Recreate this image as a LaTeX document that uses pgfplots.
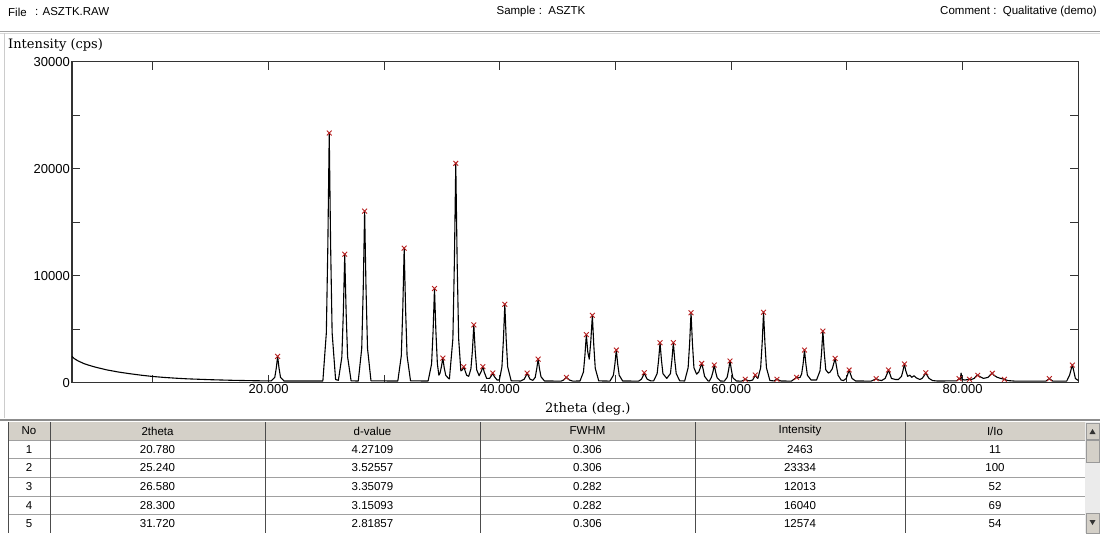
\documentclass[border=0pt]{standalone}
\usepackage{fontspec}
\setmainfont{Liberation Sans}
\newfontfamily\serfont{DejaVu Serif}
\usepackage{graphicx}
\usepackage{pgfplots}
\pgfplotsset{compat=1.18}

\definecolor{winGray}{HTML}{D4D0C8}
\definecolor{gridGray}{HTML}{A0A0A0}
\definecolor{peakRed}{HTML}{B82020}

\newcommand\tf{\fontsize{11.5}{13}\selectfont}

\begin{document}
\begin{tikzpicture}
\useasboundingbox (0pt,0pt) rectangle (1100pt,-533pt);
\fill[white] (0pt,0pt) rectangle (1100pt,-533pt);

\begin{scope}[x=1pt,y=-1pt]
% header line
\node[anchor=west,inner sep=0] at (8,12) {\tf File};
\node[anchor=west,inner sep=0] at (35,12) {\tf : ASZTK.RAW};
\node[inner sep=0] at (541,12) {\tf Sample :\ \ ASZTK};
\node[anchor=east,inner sep=0] at (1097,12) {\tf Comment :\ \ Qualitative (demo)};
% panel borders
\draw[gridGray,line width=1pt] (0,31) -- (1100,31);
\draw[black!15,line width=1pt] (0,33) -- (1100,33);
\draw[black!20,line width=1pt] (4,33) -- (4,418);
% axis titles
\node[anchor=west,inner sep=0] at (8,45) {\serfont\fontsize{13}{15}\selectfont Intensity (cps)};
\node[anchor=west,inner sep=0] at (545,409) {\serfont\fontsize{13}{15}\selectfont 2theta (deg.)};
\end{scope}

\begin{axis}[
    at={(72pt,-382.7pt)}, anchor=south west,
    scale only axis, width=1006.3pt, height=321pt,
    xmin=3, xmax=90, ymin=0, ymax=30000,
    axis line style={line width=1.3pt, black!80},
    tick style={line width=1pt, black!80},
    major tick length=8pt, tick align=inside,
    xtick={10,20,...,90},
    xticklabels={,20.000,,40.000,,60.000,,80.000,},
    ytick={0,5000,...,30000},
    yticklabels={0,,10000,,20000,,30000},
    scaled y ticks=false,
    /pgf/number format/assume math mode=true,
    ticklabel style={font=\fontsize{13}{15}\selectfont, inner sep=1pt},
    yticklabel style={xshift=-1pt},
    xticklabel style={yshift=-1pt},
    clip=false,
]
\addplot[black, line width=1.1pt, line join=round] coordinates {
(3.0,2450) (3.2,2250) (3.5,2050) (4.0,1800) (4.5,1620) (5.0,1460) (5.5,1330)
(6.0,1200) (7.0,1000) (8.0,840) (9.0,700) (10.0,580) (11.0,490) (12.0,420)
(13.0,360) (14.0,320) (15.0,280) (16.0,250) (17.0,220) (18.0,200) (19.0,180)
(20.23,170) (20.53,490) (20.66,1350) (20.78,2463) (20.90,1350) (21.03,490) (21.33,160)
(24.69,160) (24.99,4670) (25.12,12830) (25.24,23334) (25.36,12830) (25.49,4670) (25.79,300)
(26.03,220) (26.33,2400) (26.46,6610) (26.58,12013) (26.70,6610) (26.83,2400) (27.13,170)
(27.75,160) (28.05,3210) (28.18,8820) (28.30,16040) (28.42,8820) (28.55,3210) (28.85,170)
(31.17,160) (31.47,2510) (31.60,6920) (31.72,12574) (31.84,6920) (31.97,2510) (32.27,170)
(33.79,160) (34.09,1760) (34.22,4840) (34.34,8800) (34.46,4840) (34.59,1760) (34.72,700)
(34.82,900) (34.94,1500) (35.06,2300) (35.18,1400) (35.31,700) (35.55,400)
(35.63,350) (35.93,4100) (36.06,11280) (36.18,20500) (36.30,11280) (36.43,4100) (36.62,1100)
(36.75,1200) (36.87,1500) (36.99,1100) (37.12,700) (37.30,600)
(37.49,1300) (37.62,3000) (37.74,5400) (37.86,3000) (37.99,1200) (38.20,650)
(38.40,1100) (38.52,1500) (38.64,1000) (38.85,400) (39.10,400)
(39.26,650) (39.38,900) (39.50,600) (39.75,250) (39.95,250)
(40.17,1470) (40.30,4030) (40.42,7330) (40.54,4030) (40.67,1470) (40.97,180)
(41.80,160) (42.10,330) (42.23,600) (42.35,900) (42.47,600) (42.60,330) (42.85,220)
(43.05,500) (43.18,1300) (43.30,2200) (43.42,1300) (43.55,550) (43.85,160)
(45.30,150) (45.50,250) (45.63,380) (45.75,500) (45.87,380) (46.00,250) (46.30,150)
(46.92,160) (47.22,1000) (47.35,2600) (47.47,4500) (47.59,2900) (47.72,2200)
(47.85,3800) (47.99,6300) (48.11,3550) (48.24,1350) (48.54,170)
(49.51,150) (49.81,700) (49.94,1750) (50.06,3050) (50.18,1750) (50.31,700) (50.61,160)
(52.00,150) (52.23,330) (52.36,600) (52.48,930) (52.60,600) (52.73,330) (53.00,180)
(53.29,170) (53.59,850) (53.72,2150) (53.84,3740) (53.96,2150) (54.09,850) (54.42,400)
(54.74,850) (54.87,2150) (54.99,3740) (55.11,2150) (55.24,850) (55.54,180)
(55.97,160) (56.27,1400) (56.40,3700) (56.52,6540) (56.64,3700) (56.77,1400) (57.00,800)
(57.19,1000) (57.32,1400) (57.44,1800) (57.56,1300) (57.69,600) (57.99,170)
(58.10,150) (58.28,500) (58.41,1000) (58.53,1650) (58.65,1000) (58.78,450) (59.05,160)
(59.40,150) (59.64,500) (59.77,1200) (59.89,2030) (60.01,1200) (60.14,450) (60.45,160)
(60.90,150) (61.10,250) (61.21,320) (61.32,250) (61.55,170) (61.85,250) (62.00,550)
(62.07,720) (62.20,500) (62.30,400)
(62.54,1400) (62.67,3700) (62.79,6580) (62.91,3700) (63.04,1400) (63.34,200)
(63.70,170) (63.85,270) (63.95,320) (64.05,270) (64.30,160)
(65.20,150) (65.50,380) (65.64,500) (65.78,450) (65.95,500) (66.08,800)
(66.21,1750) (66.33,3050) (66.45,1750) (66.58,700) (66.90,250)
(67.37,250) (67.67,1100) (67.80,2700) (67.92,4830) (68.04,2800) (68.17,1200) (68.40,900)
(68.55,1000) (68.73,1300) (68.86,1800) (68.98,2280) (69.10,1500) (69.23,700) (69.50,250)
(69.70,200) (69.94,400) (70.07,800) (70.19,1190) (70.31,800) (70.44,400) (70.75,160)
(72.10,150) (72.30,250) (72.53,380) (72.75,250) (73.00,200)
(73.30,400) (73.46,800) (73.59,1190) (73.72,800) (73.85,400) (74.20,300)
(74.45,300) (74.72,600) (74.85,1150) (74.97,1750) (75.09,1100) (75.25,600)
(75.45,700) (75.60,500) (75.80,650) (76.00,450) (76.30,300)
(76.50,400) (76.70,700) (76.82,930) (76.95,650) (77.10,400) (77.40,200) (77.80,160)
(79.50,170) (79.70,380) (79.80,300) (79.87,900) (79.95,300) (80.20,250)
(80.45,300) (80.59,320) (80.75,300) (81.00,400) (81.20,650) (81.31,690) (81.45,600)
(81.80,400) (82.20,500) (82.45,800) (82.57,880) (82.70,700) (83.00,500) (83.30,400)
(83.61,320) (83.90,200) (84.50,150)
(87.20,150) (87.40,300) (87.50,380) (87.60,300) (87.80,150)
(89.00,150) (89.25,700) (89.37,1200) (89.49,1650) (89.61,1100) (89.75,400) (90.00,200)
};
\addplot[only marks, mark=x, mark size=3.4pt, peakRed, mark options={line width=0.9pt}] coordinates {
(20.78,2463) (25.24,23334) (26.58,12013) (28.30,16040) (31.72,12574)
(34.34,8800) (35.06,2300) (36.18,20500) (36.87,1500) (37.74,5400)
(38.52,1500) (39.38,900) (40.42,7330) (42.35,900) (43.30,2200)
(45.75,500) (47.47,4500) (47.99,6300) (50.06,3050) (52.48,930)
(53.84,3740) (54.99,3740) (56.52,6540) (57.44,1800) (58.53,1650)
(59.89,2030) (61.21,320) (62.07,720) (62.79,6580) (63.95,320)
(65.64,500) (66.33,3050) (67.92,4830) (68.98,2280) (70.19,1190)
(72.53,380) (73.59,1190) (74.97,1750) (76.82,930) (79.70,380)
(80.59,320) (81.31,690) (82.57,880) (83.61,320) (87.50,380)
(89.49,1650)
};
\end{axis}

\begin{scope}[x=1pt,y=-1pt]
% table
\draw[black!45,line width=2pt] (0,420) -- (1100,420);
\fill[winGray] (8,422) rectangle (1085,440);
\draw[gridGray,line width=0.8pt] (8,440) -- (1085,440);
\foreach \r in {458.6,477.2,495.8,514.4} {\draw[gridGray,line width=0.6pt] (8,\r) -- (1085,\r);}
\foreach \c in {8,50,265,480,695,905,1085} {\draw[black!70,line width=0.8pt] (\c,422) -- (\c,533);}
% scrollbar
\fill[black!8] (1085,422) rectangle (1100,533);
\draw[black!40,fill=winGray] (1086,423) rectangle (1099,439);
\fill[black!80] (1089.5,434) -- (1095.5,434) -- (1092.5,429) -- cycle;
\draw[black!40,fill=winGray] (1086,440) rectangle (1099,462);
\draw[black!40,fill=winGray] (1086,513) rectangle (1099,533);
\fill[black!80] (1089.5,520) -- (1095.5,520) -- (1092.5,525) -- cycle;
% header texts
\foreach \x/\t in {29/No,157.5/2theta,372.5/d-value,587.5/FWHM,800/Intensity,995/{I/Io}}
  {\node[inner sep=0] at (\x,431) {\tf \t};}
\foreach \y/\a/\b/\c/\d/\e/\f in {
  449.3/1/20.780/4.27109/0.306/2463/11,
  467.9/2/25.240/3.52557/0.306/23334/100,
  486.5/3/26.580/3.35079/0.282/12013/52,
  505.1/4/28.300/3.15093/0.282/16040/69,
  523.7/5/31.720/2.81857/0.306/12574/54}
{
  \node[inner sep=0] at (29,\y) {\tf \a};
  \node[inner sep=0] at (157.5,\y) {\tf \b};
  \node[inner sep=0] at (372.5,\y) {\tf \c};
  \node[inner sep=0] at (587.5,\y) {\tf \d};
  \node[inner sep=0] at (800,\y) {\tf \e};
  \node[inner sep=0] at (995,\y) {\tf \f};
}
\end{scope}
\end{tikzpicture}
\end{document}
